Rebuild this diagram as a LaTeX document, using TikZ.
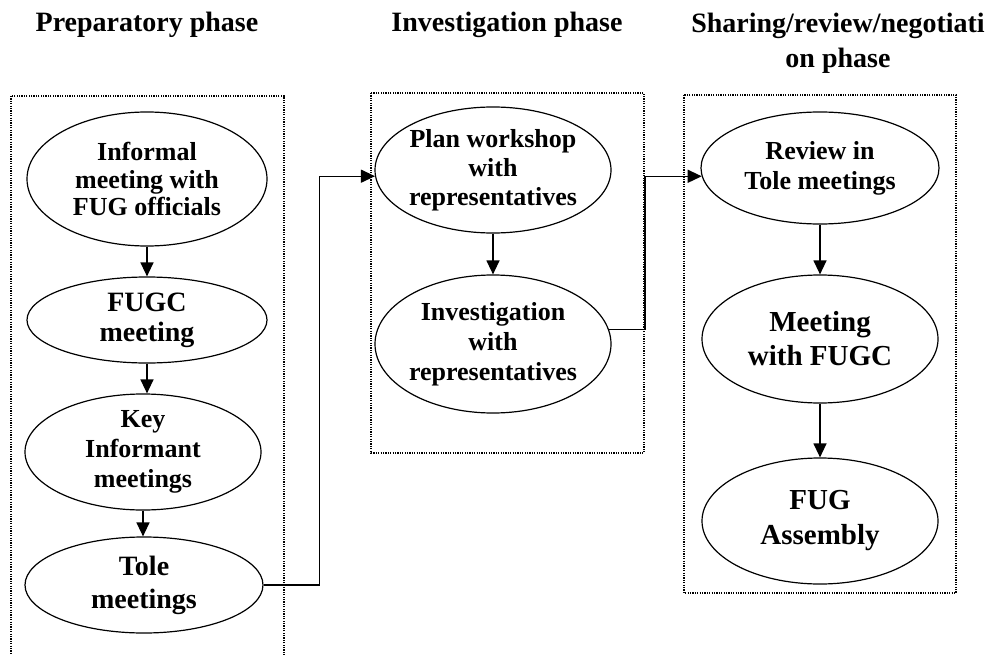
\documentclass[tikz,border=0pt]{standalone}
\usepackage{fontspec}
\setmainfont{Liberation Serif}
\usetikzlibrary{shapes.geometric,arrows.meta}
\tikzset{
  stage/.style={ellipse, draw, line width=1.2pt, inner xsep=-40pt, inner ysep=-20pt, align=center},
  txt/.style 2 args={font=\bfseries\fontsize{#1}{#2}\selectfont},
  phasebox/.style={draw, dash pattern=on 1.2pt off 1.2pt, line width=1.2pt},
  phasetitle/.style={align=center, inner sep=0pt, font=\bfseries\fontsize{28}{35}\selectfont},
  link/.style={line width=1.3pt, -{Triangle[length=14pt,width=13pt]}},
}

\begin{document}
\begin{tikzpicture}[x=1pt,y=-1pt]
\clip (0,0) rectangle (992,655);%page size

% phase frames
\draw [phasebox] (11,96) rectangle (284,670);
\draw [phasebox] (371,93) rectangle (644,453);
\draw [phasebox] (684,95) rectangle (956,593);

\node [name=prephead, phasetitle] at (147,25) {Preparatory phase};
\node [name=invhead, phasetitle] at (507,25) {Investigation phase};
\node [name=sharehead, phasetitle] at (838,43) {Sharing/review/negotiati\\on phase};

% preparatory phase
\node [name=informal, stage, txt={26}{27.5},
minimum width=240pt, minimum height=134pt] at (147,179)
{Informal\\meeting with\\FUG officials};
\node [name=fugc, stage, txt={28}{30},
minimum width=240pt, minimum height=86pt] at (147,320)
{FUGC\\meeting};
\node [name=keyinf, stage, txt={26}{30},
minimum width=236pt, minimum height=116pt] at (143,452)
{Key\\Informant\\meetings};
\node [name=tole, stage, txt={28}{33},
minimum width=238pt, minimum height=96pt] at (144,585)
{Tole\\meetings};

% investigation phase
\node [name=plan, stage, txt={26}{29},
minimum width=236pt, minimum height=126pt] at (493,170)
{Plan workshop\\with\\representatives};
\node [name=invest, stage, txt={26}{30},
minimum width=236pt, minimum height=138pt] at (493,344)
{Investigation\\with\\representatives};

% sharing phase
\node [name=review, stage, txt={26}{30},
minimum width=238pt, minimum height=112pt] at (820,168)
{Review in\\Tole meetings};
\node [name=fugcmeet, stage, txt={29}{34},
minimum width=236pt, minimum height=128pt] at (820,339)
{Meeting\\with FUGC};
\node [name=assembly, stage, txt={29}{35},
minimum width=236pt, minimum height=126pt] at (820,521)
{FUG\\Assembly};

\draw [link] (informal.south) -- (fugc.north);
\draw [link] (fugc.south) -- (fugc.south |- keyinf.north);
\draw [link] (keyinf.south) -- (keyinf.south |- tole.north);
\draw [link] (tole.east) -- ++(56,0) |- (plan.183);
\draw [link] (plan.south) -- (invest.north);
\draw [link] (invest.7) -- ++(36,0) |- (review.184);
\draw [link] (review.south) -- (fugcmeet.north);
\draw [link] (fugcmeet.south) -- (assembly.north);
\end{tikzpicture}
\end{document}
